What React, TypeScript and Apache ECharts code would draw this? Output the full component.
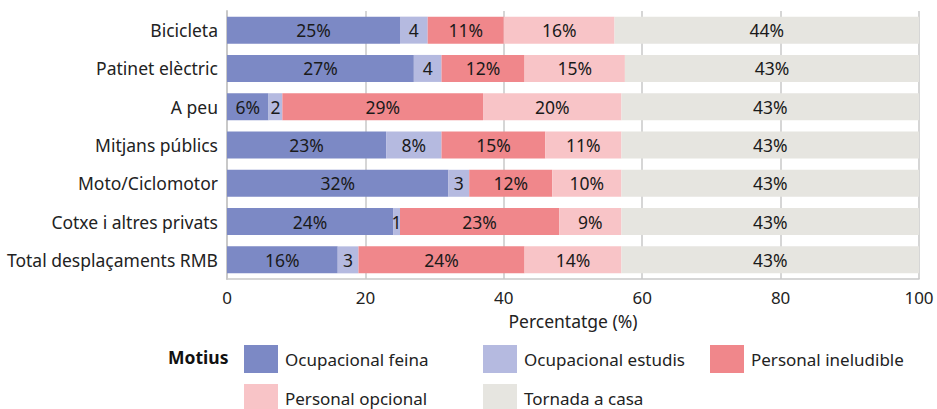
import React, { useEffect, useRef } from "react";
import * as echarts from "echarts";

const categories = [
  "Bicicleta",
  "Patinet elèctric",
  "A peu",
  "Mitjans públics",
  "Moto/Ciclomotor",
  "Cotxe i altres privats",
  "Total desplaçaments RMB",
];

const seriesNames = [
  "Ocupacional feina",
  "Ocupacional estudis",
  "Personal ineludible",
  "Personal opcional",
  "Tornada a casa",
];

const ocupacionalFeina = [25, 27, 6, 23, 32, 24, 16];
const ocupacionalEstudis = [4, 4, 2, 8, 3, 1, 3];
const personalIneludible = [11, 12, 29, 15, 12, 23, 24];
const personalOpcional = [16, 14.5, 20, 11, 10, 9, 14];
const tornadaACasa = [44, 42.5, 43, 43, 43, 43, 43];

const xTicks = [0, 20, 40, 60, 80, 100];

const colors = ["#7c89c5", "#b5bae0", "#f0878b", "#f8c4c7", "#e6e5e0"];

const FONT = "Noto Sans";

export default function App() {
  const ref = useRef<HTMLDivElement>(null);
  useEffect(() => {
    if (!ref.current) return;
    const chart = echarts.init(ref.current, undefined, { renderer: "svg" });
    const allData = [
      ocupacionalFeina,
      ocupacionalEstudis,
      personalIneludible,
      personalOpcional,
      tornadaACasa,
    ];
    const legendPos = [
      { left: 244, top: 345 },
      { left: 483, top: 345 },
      { left: 710, top: 345 },
      { left: 244, top: 384 },
      { left: 483, top: 384 },
    ];
    chart.setOption({
      animation: false,
      textStyle: { fontFamily: FONT },
      grid: { left: 227, right: 18, top: 11, bottom: 130 },
      xAxis: {
        type: "value",
        min: xTicks[0],
        max: xTicks[xTicks.length - 1],
        interval: 20,
        name: "Percentatge (%)",
        nameLocation: "middle",
        nameGap: 33,
        nameTextStyle: { fontSize: 17.5, color: "#222", fontFamily: FONT },
        axisLine: { show: true, lineStyle: { color: "#c9c9c9", width: 1.5 } },
        axisTick: { show: false },
        axisLabel: { fontSize: 17, color: "#222", margin: 10, fontFamily: FONT },
        splitLine: { show: true, lineStyle: { color: "#c9c9c9", width: 1.5 } },
      },
      yAxis: {
        type: "category",
        data: categories,
        inverse: true,
        axisLine: { show: true, lineStyle: { color: "#c9c9c9", width: 2 } },
        axisTick: { show: false },
        axisLabel: { fontSize: 17.5, color: "#222", margin: 9, fontFamily: FONT },
        splitLine: { show: false },
      },
      legend: seriesNames.map((n, i) => ({
        data: [n],
        left: legendPos[i].left,
        top: legendPos[i].top,
        itemWidth: 34,
        itemHeight: 28,
        itemGap: 0,
        icon: "rect",
        textStyle: { fontSize: 17, color: "#222", fontFamily: FONT, padding: [0, 0, 0, 2] },
        padding: 0,
      })),
      graphic: [
        {
          type: "text",
          left: 168,
          top: 348,
          style: {
            text: "Motius",
            font: `bold 17.5px "${FONT}"`,
            fill: "#111",
          },
        },
      ],
      series: seriesNames.map((n, i) => ({
        name: n,
        type: "bar",
        stack: "total",
        barWidth: 27,
        itemStyle: { color: colors[i] },
        data: allData[i],
        label: {
          show: true,
          position: "inside",
          fontSize: 17.5,
          color: "#1a1a1a",
          fontFamily: FONT,
          formatter: (p: any) => {
            const v = Math.round(p.value);
            return v < 5 ? `${v}` : `${v}%`;
          },
        },
      })),
    });
    return () => chart.dispose();
  }, []);
  return <div ref={ref} style={{ width: 937, height: 409, position: "absolute", left: 0, top: 0 }} />;
}
